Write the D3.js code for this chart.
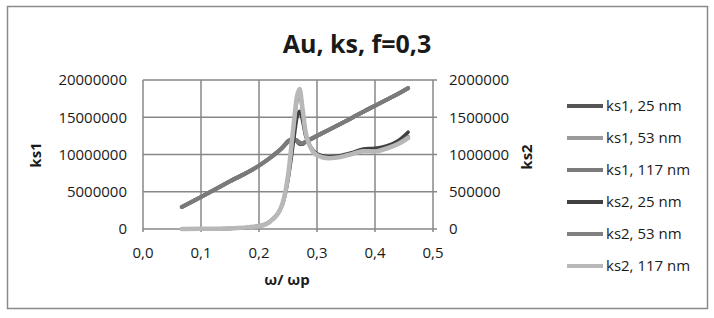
<!DOCTYPE html>
<html>
<head>
<meta charset="utf-8">
<script src="https://cdn.jsdelivr.net/npm/d3@7"></script>
<style>
  body { margin: 0; background: #fff; }
  text { font-family: "Open Sans", sans-serif; fill: #1a1a1a; }
</style>
</head>
<body>
<svg width="714" height="318"></svg>
<script>

// omega / omega_p
var omega = [0.067, 0.1, 0.15, 0.2, 0.22, 0.24, 0.25, 0.26, 0.265, 0.27, 0.275, 0.28, 0.29, 0.30, 0.32, 0.34, 0.36, 0.38, 0.40, 0.42, 0.44, 0.457];

// ks1 (left axis)
var ks1_25  = [2950000, 4300000, 6400000, 8500000, 9600000, 10900000, 11800000, 12100000, 11800000, 11400000, 11400000, 11700000, 12100000, 12500000, 13300000, 14100000, 14900000, 15750000, 16550000, 17350000, 18150000, 18900000];
var ks1_53  = [2950000, 4300000, 6400000, 8500000, 9600000, 10900000, 11700000, 12000000, 11900000, 11600000, 11500000, 11700000, 12100000, 12500000, 13300000, 14100000, 14900000, 15750000, 16550000, 17350000, 18150000, 18900000];
var ks1_117 = [2950000, 4300000, 6400000, 8500000, 9600000, 10900000, 11700000, 12000000, 11900000, 11600000, 11500000, 11700000, 12100000, 12500000, 13300000, 14100000, 14900000, 15750000, 16550000, 17350000, 18150000, 18900000];

// ks2 (right axis)
var ks2_25  = [0, 2000, 8000, 40000, 110000, 320000, 660000, 1200000, 1480000, 1580000, 1460000, 1260000, 1090000, 1010000, 970000, 985000, 1025000, 1075000, 1085000, 1115000, 1185000, 1300000];
var ks2_53  = [0, 2000, 8000, 38000, 105000, 330000, 700000, 1380000, 1700000, 1820000, 1580000, 1300000, 1080000, 990000, 950000, 970000, 1010000, 1050000, 1050000, 1090000, 1150000, 1240000];
var ks2_117 = [0, 2000, 8000, 38000, 105000, 330000, 710000, 1420000, 1760000, 1880000, 1620000, 1320000, 1080000, 990000, 950000, 965000, 1005000, 1045000, 1040000, 1080000, 1140000, 1220000];

var seriesNames = ["ks1, 25 nm", "ks1, 53 nm", "ks1, 117 nm", "ks2, 25 nm", "ks2, 53 nm", "ks2, 117 nm"];
var seriesColors = ["#555555", "#9a9a9a", "#7a7a7a", "#404040", "#808080", "#b8b8b8"];
var xTicks = [0, 0.1, 0.2, 0.3, 0.4, 0.5];
var leftTicks = [0, 5000000, 10000000, 15000000, 20000000];
var rightTicks = [0, 500000, 1000000, 1500000, 2000000];

var series = [
  {name: seriesNames[0], values: ks1_25,  axis: "left",  color: seriesColors[0], w: 4},
  {name: seriesNames[1], values: ks1_53,  axis: "left",  color: seriesColors[1], w: 4},
  {name: seriesNames[2], values: ks1_117, axis: "left",  color: seriesColors[2], w: 4},
  {name: seriesNames[3], values: ks2_25,  axis: "right", color: seriesColors[3], w: 3.5},
  {name: seriesNames[4], values: ks2_53,  axis: "right", color: seriesColors[4], w: 3.5},
  {name: seriesNames[5], values: ks2_117, axis: "right", color: seriesColors[5], w: 4.5}
];

var svg = d3.select("svg"),
  width = +svg.attr("width"),
  height = +svg.attr("height");

var plot = {left: 143, right: 433, top: 80, bottom: 229};
var gridColor = "#878787";

// outer frame
svg.append("rect")
  .attr("x", 7.5).attr("y", 6.5)
  .attr("width", 700).attr("height", 302)
  .attr("fill", "#fff")
  .attr("stroke", "#8a8a8a")
  .attr("stroke-width", 1.5);

var x = d3.scaleLinear().domain([0, 0.5]).range([plot.left, plot.right]);
var yL = d3.scaleLinear().domain([0, 20000000]).range([plot.bottom, plot.top]);
var yR = d3.scaleLinear().domain([0, 2000000]).range([plot.bottom, plot.top]);

var comma = function(v) { return d3.format(".1f")(v).replace(".", ","); };

// grid
svg.append("g").selectAll("line")
  .data(leftTicks)
  .enter().append("line")
  .attr("x1", plot.left).attr("x2", plot.right + 4)
  .attr("y1", function(d) { return yL(d); })
  .attr("y2", function(d) { return yL(d); })
  .attr("stroke", gridColor).attr("stroke-width", 1.5);

svg.append("g").selectAll("line")
  .data(xTicks)
  .enter().append("line")
  .attr("x1", function(d) { return x(d); })
  .attr("x2", function(d) { return x(d); })
  .attr("y1", plot.top).attr("y2", plot.bottom + 3)
  .attr("stroke", gridColor).attr("stroke-width", 1.5);

// tick labels
svg.append("g").selectAll("text")
  .data(leftTicks)
  .enter().append("text")
  .attr("x", 127)
  .attr("y", function(d) { return yL(d); })
  .attr("dy", "0.35em")
  .attr("text-anchor", "end")
  .style("font-size", "15px")
  .text(function(d) { return d; });

svg.append("g").selectAll("text")
  .data(rightTicks)
  .enter().append("text")
  .attr("x", 449)
  .attr("y", function(d) { return yR(d); })
  .attr("dy", "0.35em")
  .style("font-size", "15px")
  .text(function(d) { return d; });

svg.append("g").selectAll("text")
  .data(xTicks)
  .enter().append("text")
  .attr("x", function(d) { return x(d); })
  .attr("y", 258)
  .attr("text-anchor", "middle")
  .style("font-size", "15px")
  .text(function(d) { return comma(d); });

// titles
svg.append("text")
  .attr("x", 357).attr("y", 53)
  .attr("text-anchor", "middle")
  .style("font-size", "25px").style("font-weight", "bold")
  .text("Au, ks, f=0,3");

svg.append("text")
  .attr("transform", "translate(41,155) rotate(-90)")
  .attr("text-anchor", "middle")
  .style("font-size", "15px").style("font-weight", "bold")
  .text("ks1");

svg.append("text")
  .attr("transform", "translate(532,157) rotate(-90)")
  .attr("text-anchor", "middle")
  .style("font-size", "15px").style("font-weight", "bold")
  .text("ks2");

svg.append("text")
  .attr("x", 287).attr("y", 285)
  .attr("text-anchor", "middle")
  .style("font-size", "15px").style("font-weight", "bold")
  .text("ω/ ωp");

// lines
var lineL = d3.line()
  .x(function(d, i) { return x(omega[i]); })
  .y(function(d) { return yL(d); })
  .curve(d3.curveMonotoneX);

var lineR = d3.line()
  .x(function(d, i) { return x(omega[i]); })
  .y(function(d) { return yR(d); })
  .curve(d3.curveMonotoneX);

// series order as in the legend: ks1 underneath, ks2 (secondary axis) on top
svg.append("g").selectAll("path")
  .data(series)
  .enter().append("path")
  .attr("d", function(d) { return d.axis == "left" ? lineL(d.values) : lineR(d.values); })
  .attr("fill", "none")
  .attr("stroke", function(d) { return d.color; })
  .attr("stroke-width", function(d) { return d.w; })
  .attr("stroke-linejoin", "round")
  .attr("stroke-linecap", "round");

// legend
var legend = svg.append("g").selectAll("g")
  .data(series)
  .enter().append("g")
  .attr("transform", function(d, i) { return "translate(567," + (106 + i * 32) + ")"; });

legend.append("line")
  .attr("x1", 0).attr("x2", 36)
  .attr("stroke", function(d) { return d.color; })
  .attr("stroke-width", 4);

legend.append("text")
  .attr("x", 39)
  .attr("dy", "0.35em")
  .style("font-size", "15px")
  .text(function(d) { return d.name; });

</script>
</body>
</html>
